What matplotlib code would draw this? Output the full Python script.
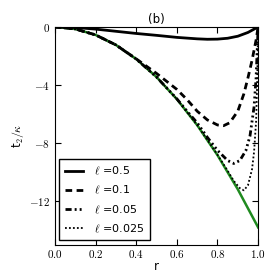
import matplotlib
matplotlib.use("Agg")

import matplotlib.pyplot as plt
from matplotlib.ticker import FuncFormatter

plt.rcParams["mathtext.fontset"] = "cm"

# limit curve (green)
r_lim = [0.0, 0.1, 0.2, 0.3, 0.4, 0.5, 0.6, 0.7, 0.8, 0.9, 1.0]
t_lim = [0.0, -0.14, -0.55, -1.24, -2.21, -3.45, -4.97, -6.76, -8.83, -11.18, -13.8]

# l = 0.5
r_05 = [0.0, 0.1, 0.2, 0.3, 0.4, 0.5, 0.6, 0.7, 0.75, 0.8, 0.85, 0.9, 0.95, 1.0]
t_05 = [0.0, -0.04, -0.15, -0.3, -0.45, -0.58, -0.72, -0.82, -0.85, -0.84, -0.78, -0.64, -0.38, 0.0]

# l = 0.1
r_01 = [0.0, 0.1, 0.2, 0.3, 0.4, 0.45, 0.5, 0.55, 0.6, 0.65, 0.7, 0.75, 0.8, 0.83,
        0.86, 0.9, 0.93, 0.95, 0.97, 0.99, 1.0]
t_01 = [0.0, -0.14, -0.55, -1.24, -2.2, -2.7, -3.2, -3.75, -4.3, -5.0, -5.8, -6.4, -6.75, -6.8,
        -6.6, -5.8, -4.6, -3.5, -2.3, -0.9, 0.0]

# l = 0.05
r_005 = [0.0, 0.1, 0.2, 0.3, 0.4, 0.5, 0.6, 0.65, 0.7, 0.75, 0.8, 0.85, 0.88,
         0.91, 0.94, 0.96, 0.98, 0.99, 1.0]
t_005 = [0.0, -0.14, -0.55, -1.24, -2.21, -3.45, -4.95, -5.8, -6.6, -7.6, -8.5, -9.2, -9.4,
         -9.2, -8.5, -7.5, -5.5, -3.5, 0.0]

# l = 0.025
r_0025 = [0.0, 0.1, 0.2, 0.3, 0.4, 0.5, 0.6, 0.7, 0.8, 0.85, 0.88, 0.91, 0.93,
          0.95, 0.97, 0.98, 0.99, 0.995, 1.0]
t_0025 = [0.0, -0.14, -0.55, -1.24, -2.21, -3.45, -4.97, -6.76, -8.8, -9.9, -10.6, -11.1, -11.25,
          -10.9, -9.8, -8.6, -6.5, -4.0, 0.0]

fig = plt.figure(figsize=(2.72, 2.72), dpi=100)
ax = fig.add_axes([0.202, 0.1, 0.747, 0.801])

ax.plot(r_lim, t_lim, color="#1f8a1f", lw=1.8)
ax.plot(r_05, t_05, "k-", lw=2, label=r"$\ell$ =0.5")
ax.plot(r_01, t_01, color="k", lw=2, ls=(0, (2.4, 1.6)), label=r"$\ell$ =0.1")
ax.plot(r_005, t_005, color="k", lw=2,
        ls=(0, (2.2, 1.1, 0.7, 1.1, 0.7, 1.1, 0.7, 1.1)), label=r"$\ell$ =0.05")
ax.plot(r_0025, t_0025, color="k", lw=1.3, ls=(0, (1, 1.2)), label=r"$\ell$ =0.025")

ax.set_xlim(0, 1)
ax.set_ylim(-15, 0)
ax.set_xticks([0.0, 0.2, 0.4, 0.6, 0.8, 1.0])
ax.set_yticks([0, -4, -8, -12])
ax.xaxis.set_major_formatter(FuncFormatter(lambda v, p: "$%.1f$" % v))
ax.yaxis.set_major_formatter(FuncFormatter(lambda v, p: "$%d$" % v))
ax.tick_params(direction="in", top=True, right=True, length=4, labelsize=8)
ax.tick_params(axis="x", pad=2.5)

ax.set_title("(b)", fontsize=8.5, pad=3)
ax.set_xlabel("r", fontsize=8.5, labelpad=0)
ax.set_ylabel(r"t$_2/\kappa$", fontsize=8.5, labelpad=2)

leg = ax.legend(loc="lower left", fontsize=8, fancybox=False, framealpha=1,
                edgecolor="black", handlelength=1.6, handletextpad=1.0,
                borderpad=0.5, labelspacing=0.62, borderaxespad=0.4)
leg.get_frame().set_linewidth(1.0)

fig.savefig("out.png", dpi=100)
